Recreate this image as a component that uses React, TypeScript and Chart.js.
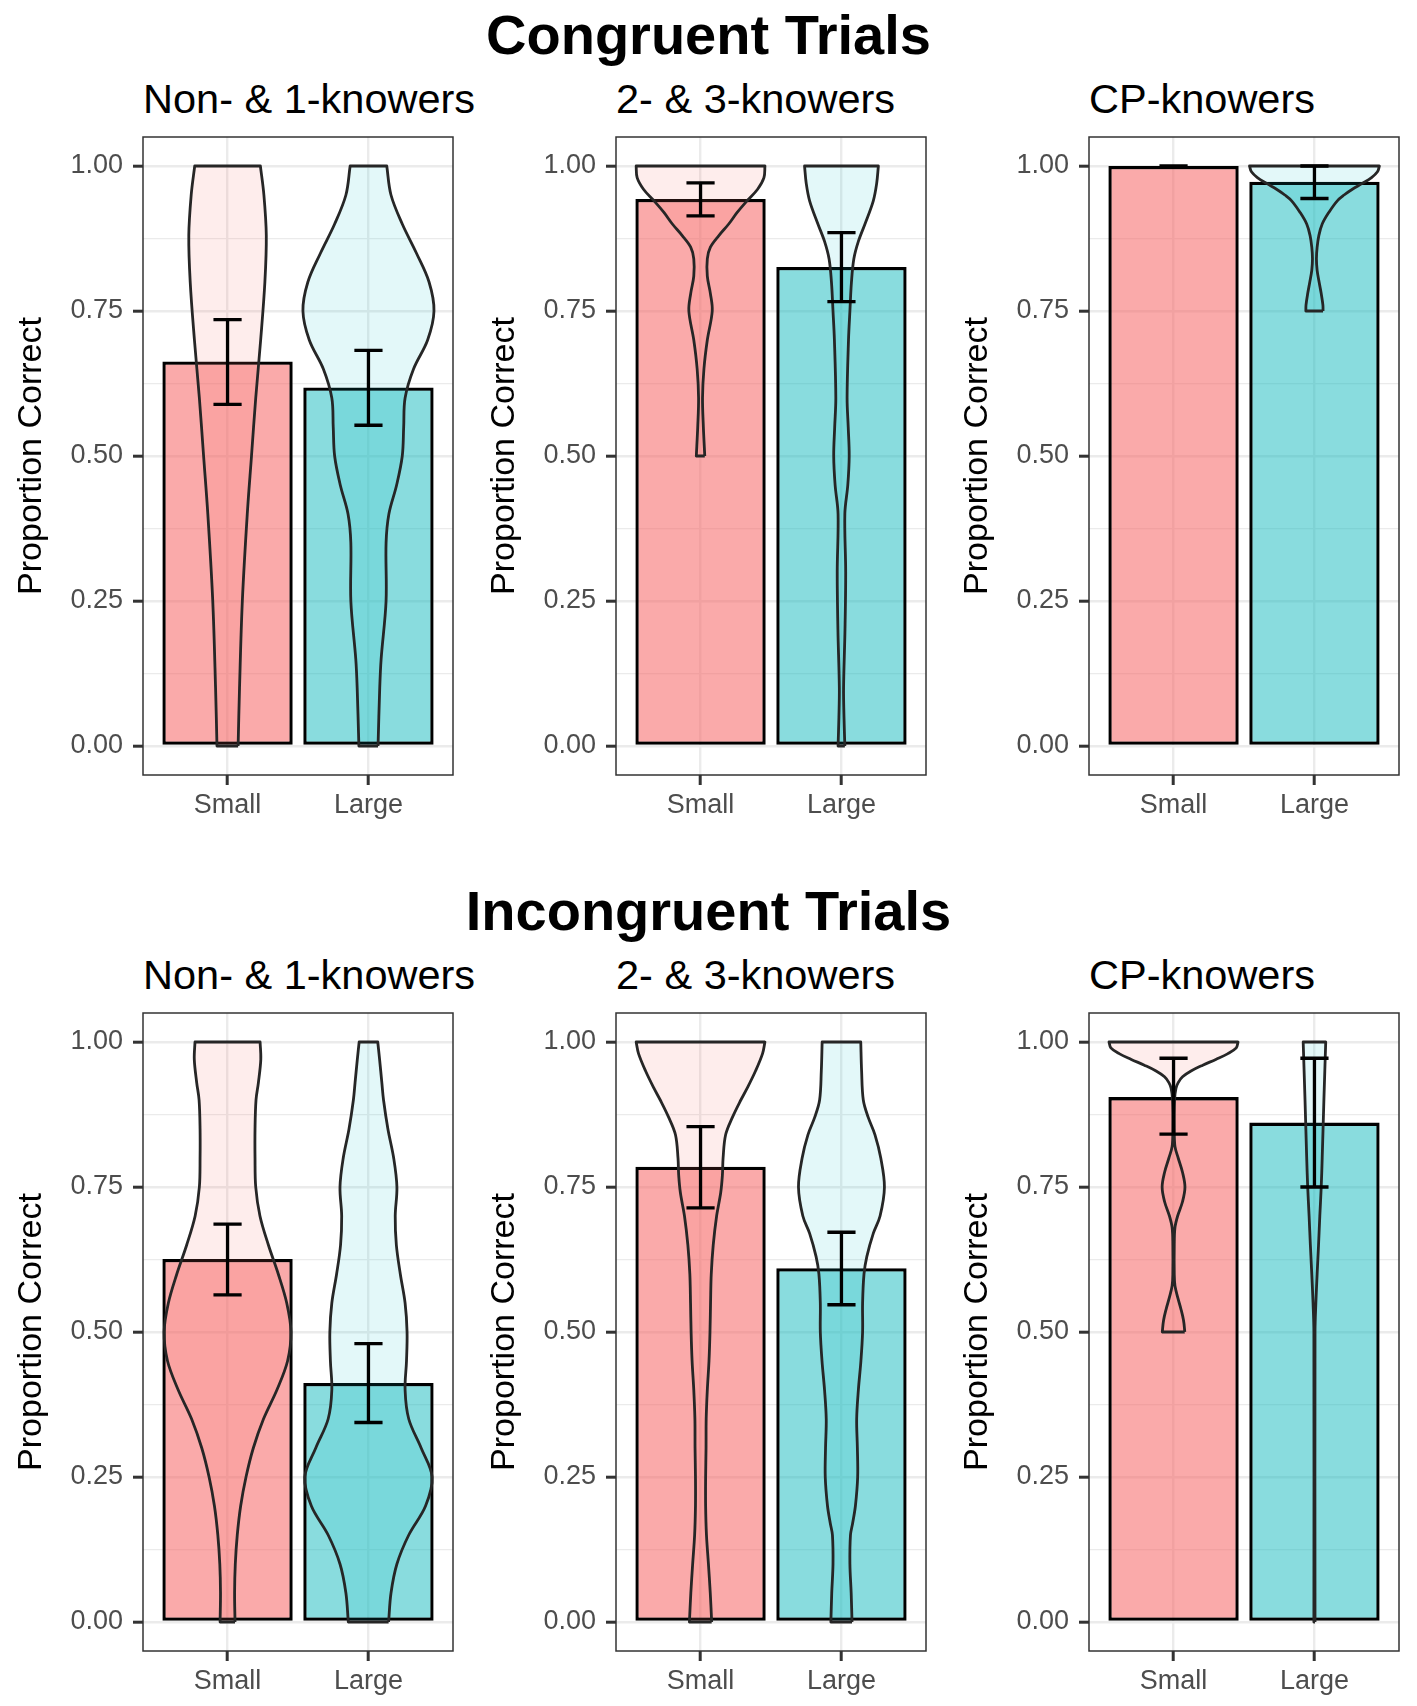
import { useEffect, useRef } from "react"
import { Chart, registerables, type ChartConfiguration, type Plugin } from "chart.js"

Chart.register(...registerables)
Chart.defaults.font.family = '"Liberation Sans", Arial, sans-serif'

const conditions = ["Small", "Large"]
const knowerGroups = ["Non- & 1-knowers", "2- & 3-knowers", "CP-knowers"]
const yTicks = [-0.05, 0, 0.125, 0.25, 0.375, 0.5, 0.625, 0.75, 0.875, 1, 1.05]

// mean proportion correct, [Small, Large] per knower group
const congruentMean = [[0.663, 0.618], [0.943, 0.826], [1.0, 0.973]]
const congruentLow = [[0.589, 0.553], [0.914, 0.766], [1.0, 0.944]]
const congruentHigh = [[0.735, 0.682], [0.971, 0.885], [1.0, 1.0]]

const incongruentMean = [[0.626, 0.412], [0.785, 0.61], [0.905, 0.861]]
const incongruentLow = [[0.564, 0.344], [0.714, 0.547], [0.841, 0.75]]
const incongruentHigh = [[0.686, 0.48], [0.854, 0.672], [0.972, 0.972]]

// violin outlines: [proportion correct, half width in category units]
const congN1Small = [[0, 0.075], [0.1, 0.085], [0.25, 0.105], [0.4, 0.14], [0.5, 0.17], [0.6, 0.2], [0.7, 0.235], [0.8, 0.265], [0.88, 0.275], [0.95, 0.258], [1, 0.233]]
const congN1Large = [[0, 0.068], [0.1, 0.08], [0.15, 0.09], [0.25, 0.125], [0.35, 0.125], [0.4, 0.145], [0.45, 0.2], [0.5, 0.24], [0.55, 0.25], [0.6, 0.26], [0.65, 0.32], [0.7, 0.42], [0.75, 0.465], [0.8, 0.43], [0.85, 0.34], [0.9, 0.24], [0.95, 0.16], [1, 0.13]]
const cong23Small = [[0.5, 0.03], [0.55, 0.02], [0.6, 0.014], [0.65, 0.024], [0.7, 0.048], [0.75, 0.083], [0.78, 0.07], [0.81, 0.048], [0.84, 0.048], [0.86, 0.07], [0.88, 0.13], [0.9, 0.2], [0.92, 0.26], [0.94, 0.33], [0.96, 0.405], [0.98, 0.45], [1, 0.457]]
const cong23Large = [[0, 0.024], [0.05, 0.018], [0.1, 0.015], [0.2, 0.025], [0.3, 0.03], [0.4, 0.024], [0.45, 0.045], [0.5, 0.055], [0.55, 0.048], [0.6, 0.04], [0.7, 0.05], [0.75, 0.06], [0.8, 0.071], [0.84, 0.088], [0.87, 0.12], [0.9, 0.167], [0.94, 0.226], [0.97, 0.25], [1, 0.262]]
const congCpSmall: number[][] = []
const congCpLarge = [[0.75, 0.061], [0.76, 0.06], [0.78, 0.048], [0.8, 0.033], [0.82, 0.019], [0.84, 0.014], [0.86, 0.019], [0.88, 0.031], [0.9, 0.055], [0.92, 0.102], [0.94, 0.162], [0.95, 0.21], [0.96, 0.269], [0.97, 0.34], [0.98, 0.405], [0.99, 0.447], [1, 0.461]]

const incN1Small = [[0, 0.053], [0.05, 0.05], [0.1, 0.055], [0.15, 0.069], [0.2, 0.093], [0.25, 0.131], [0.3, 0.183], [0.35, 0.255], [0.4, 0.35], [0.45, 0.426], [0.5, 0.45], [0.55, 0.42], [0.6, 0.36], [0.65, 0.29], [0.7, 0.23], [0.75, 0.2], [0.8, 0.195], [0.85, 0.195], [0.9, 0.202], [0.93, 0.219], [0.97, 0.236], [1, 0.231]]
const incN1Large = [[0, 0.143], [0.05, 0.16], [0.1, 0.202], [0.15, 0.286], [0.2, 0.405], [0.25, 0.452], [0.3, 0.374], [0.35, 0.286], [0.4, 0.26], [0.45, 0.27], [0.5, 0.274], [0.55, 0.26], [0.6, 0.226], [0.65, 0.198], [0.7, 0.19], [0.75, 0.202], [0.8, 0.179], [0.85, 0.138], [0.9, 0.107], [0.93, 0.095], [0.97, 0.079], [1, 0.066]]
const inc23Small = [[0, 0.079], [0.05, 0.069], [0.1, 0.056], [0.15, 0.042], [0.2, 0.036], [0.25, 0.036], [0.3, 0.039], [0.35, 0.04], [0.4, 0.048], [0.45, 0.06], [0.5, 0.067], [0.55, 0.071], [0.6, 0.076], [0.65, 0.09], [0.7, 0.114], [0.74, 0.143], [0.77, 0.155], [0.8, 0.16], [0.84, 0.178], [0.87, 0.226], [0.9, 0.286], [0.92, 0.33], [0.95, 0.39], [0.98, 0.44], [1, 0.457]]
const inc23Large = [[0, 0.075], [0.05, 0.069], [0.1, 0.06], [0.15, 0.064], [0.17, 0.079], [0.2, 0.099], [0.25, 0.115], [0.3, 0.113], [0.35, 0.108], [0.4, 0.12], [0.45, 0.138], [0.5, 0.15], [0.55, 0.15], [0.6, 0.16], [0.63, 0.18], [0.67, 0.226], [0.7, 0.274], [0.75, 0.305], [0.8, 0.279], [0.84, 0.238], [0.87, 0.19], [0.9, 0.155], [0.95, 0.143], [1, 0.137]]
const incCpSmall = [[0.5, 0.08], [0.52, 0.071], [0.54, 0.052], [0.56, 0.029], [0.58, 0.01], [0.6, 0.005], [0.65, 0.005], [0.68, 0.01], [0.7, 0.029], [0.725, 0.064], [0.75, 0.081], [0.775, 0.064], [0.8, 0.033], [0.82, 0.01], [0.85, 0.005], [0.9, 0.007], [0.92, 0.017], [0.93, 0.033], [0.94, 0.064], [0.95, 0.124], [0.96, 0.207], [0.97, 0.3], [0.98, 0.386], [0.99, 0.445], [1, 0.458]]
const incCpLarge = [[0, 0.004], [0.5, 0.004], [0.55, 0.01], [0.6, 0.019], [0.65, 0.029], [0.7, 0.038], [0.75, 0.048], [0.8, 0.055], [0.9, 0.067], [1, 0.08]]

const congruentViolins = [[congN1Small, congN1Large], [cong23Small, cong23Large], [congCpSmall, congCpLarge]]
const incongruentViolins = [[incN1Small, incN1Large], [inc23Small, inc23Large], [incCpSmall, incCpLarge]]

const barColors = ["rgba(245, 100, 100, 0.55)", "rgba(20, 185, 190, 0.5)"]
const violinColors = ["rgba(248, 118, 109, 0.13)", "rgba(0, 191, 196, 0.11)"]

const COL_W = 473
const CANVAS_W = 470
const CANVAS_H = 705
const ROW_TOPS = [125, 1001]

const isMajor = (v: number) => v >= 0 && v <= 1 && Math.abs(v * 4 - Math.round(v * 4)) < 1e-6
const isInside = (v: number) => v >= -1e-6 && v <= 1 + 1e-6

// closed outline: right side up, flat top, left side down, flat bottom
function violinPoints(center: number, outline: number[][]) {
  if (!outline.length) return []
  const right = outline.map(([y, w]) => ({ x: center + w, y }))
  const left = outline.map(([y, w]) => ({ x: center - w, y })).reverse()
  const r0 = right[0]
  const rn = right[right.length - 1]
  const ln = left[0]
  const l0 = left[left.length - 1]
  return [r0, ...right, rn, ln, ...left, l0, r0]
}

function errorBarPoints(lows: number[], highs: number[]) {
  const pts: { x: number; y: number | null }[] = []
  lows.forEach((lo, i) => {
    const c = i + 1
    const hi = highs[i]
    pts.push(
      { x: c - 0.1, y: hi }, { x: c + 0.1, y: hi }, { x: c, y: null },
      { x: c, y: hi }, { x: c, y: lo }, { x: c, y: null },
      { x: c - 0.1, y: lo }, { x: c + 0.1, y: lo }, { x: c, y: null },
    )
  })
  return pts
}

const panelBorder: Plugin = {
  id: "panelBorder",
  afterDraw(chart) {
    const { ctx, chartArea: a } = chart
    ctx.save()
    ctx.strokeStyle = "#333333"
    ctx.lineWidth = 1.5
    ctx.strokeRect(a.left, a.top, a.right - a.left, a.bottom - a.top)
    ctx.restore()
  },
}

interface PanelProps {
  title: string
  left: number
  top: number
  means: number[]
  lows: number[]
  highs: number[]
  violins: number[][][]
}

function KnowerPanel({ title, left, top, means, lows, highs, violins }: PanelProps) {
  const chartRef = useRef<HTMLCanvasElement>(null)

  useEffect(() => {
    if (!chartRef.current) return
    const config: ChartConfiguration = {
      type: "bar",
      data: {
        datasets: [
          {
            type: "bar",
            data: means.map((m, i) => ({ x: i + 1, y: m })),
            backgroundColor: barColors,
            borderColor: "#000000",
            borderWidth: 3.3,
            borderSkipped: false,
            barPercentage: 0.925,
            categoryPercentage: 1,
            order: 3,
          },
          ...violins.map((outline, i) => ({
            type: "line" as const,
            data: violinPoints(i + 1, outline),
            borderColor: "#262626",
            borderWidth: 2.8,
            borderJoinStyle: "round" as const,
            backgroundColor: violinColors[i],
            fill: "shape" as const,
            pointRadius: 0,
            tension: 0.35,
            order: 2,
          })),
          {
            type: "line",
            data: errorBarPoints(lows, highs),
            borderColor: "#000000",
            borderWidth: 3.3,
            pointRadius: 0,
            fill: false,
            tension: 0,
            spanGaps: false,
            order: 1,
          },
        ],
      } as any,
      options: {
        responsive: false,
        maintainAspectRatio: false,
        animation: false,
        events: [],
        layout: { padding: { top: 12, right: CANVAS_W - 453, bottom: 0, left: 0 } },
        plugins: {
          legend: { display: false },
          tooltip: { enabled: false },
        },
        scales: {
          x: {
            type: "linear",
            min: 0.4,
            max: 2.6,
            offset: false,
            afterBuildTicks: (s: any) => {
              s.ticks = conditions.map((_, i) => ({ value: i + 1 }))
            },
            afterFit: (s: any) => {
              s.height = 55
              s.paddingLeft = 0
              s.paddingRight = 0
            },
            ticks: {
              callback: (v: any) => conditions[Number(v) - 1] ?? "",
              color: "#4D4D4D",
              font: { size: 27 },
              padding: 4,
              autoSkip: false,
              maxRotation: 0,
            },
            grid: {
              offset: false,
              color: "#EBEBEB",
              lineWidth: 2.4,
              tickColor: "#333333",
              tickWidth: 3,
              tickLength: 10,
            },
            border: { display: false },
          },
          y: {
            type: "linear",
            min: -0.05,
            max: 1.05,
            afterBuildTicks: (s: any) => {
              s.ticks = yTicks.map((v) => ({ value: v }))
            },
            afterFit: (s: any) => {
              s.width = 143
              s.paddingTop = 0
              s.paddingBottom = 0
            },
            ticks: {
              callback: (v: any) => {
                const n = Number(v)
                if (!isInside(n)) return null
                return isMajor(n) ? n.toFixed(2) : ""
              },
              color: "#4D4D4D",
              font: { size: 27 },
              padding: 10,
              autoSkip: false,
            },
            grid: {
              color: (c: any) => (c.tick && isInside(c.tick.value) ? "#EBEBEB" : "rgba(0,0,0,0)"),
              lineWidth: (c: any) => (c.tick && isMajor(c.tick.value) ? 2.4 : 1.2),
              tickColor: (c: any) => (c.tick && isMajor(c.tick.value) ? "#333333" : "rgba(0,0,0,0)"),
              tickWidth: 3,
              tickLength: 10,
            },
            border: { display: false },
            title: {
              display: true,
              text: "Proportion Correct",
              color: "#000000",
              font: { size: 34 },
              padding: { top: 11, bottom: 0 },
            },
          },
        },
      } as any,
      plugins: [panelBorder],
    }
    const chart = new Chart(chartRef.current, config)
    return () => chart.destroy()
  }, [means, lows, highs, violins])

  return (
    <>
      <div
        style={{
          position: "absolute",
          left: left + 143,
          top: top - 47,
          fontSize: 41.5,
          lineHeight: "41.5px",
          whiteSpace: "nowrap",
          color: "#000",
        }}
      >
        {title}
      </div>
      <canvas
        ref={chartRef}
        width={CANVAS_W}
        height={CANVAS_H}
        style={{ position: "absolute", left, top, width: CANVAS_W, height: CANVAS_H }}
      />
    </>
  )
}

const mainTitle = (top: number): React.CSSProperties => ({
  position: "absolute",
  left: 0,
  top,
  width: 1417,
  textAlign: "center",
  fontSize: 56,
  lineHeight: "56px",
  fontWeight: "bold",
  color: "#000",
})

export default function App() {
  return (
    <div
      style={{
        position: "absolute",
        left: 0,
        top: 0,
        width: 1417,
        height: 1706,
        overflow: "hidden",
        background: "#ffffff",
        fontFamily: '"Liberation Sans", Arial, sans-serif',
      }}
    >
      <div style={mainTitle(7)}>Congruent Trials</div>
      <div style={mainTitle(883)}>Incongruent Trials</div>
      {knowerGroups.map((g, k) => (
        <KnowerPanel
          key={"c" + k}
          title={g}
          left={k * COL_W}
          top={ROW_TOPS[0]}
          means={congruentMean[k]}
          lows={congruentLow[k]}
          highs={congruentHigh[k]}
          violins={congruentViolins[k]}
        />
      ))}
      {knowerGroups.map((g, k) => (
        <KnowerPanel
          key={"i" + k}
          title={g}
          left={k * COL_W}
          top={ROW_TOPS[1]}
          means={incongruentMean[k]}
          lows={incongruentLow[k]}
          highs={incongruentHigh[k]}
          violins={incongruentViolins[k]}
        />
      ))}
    </div>
  )
}
